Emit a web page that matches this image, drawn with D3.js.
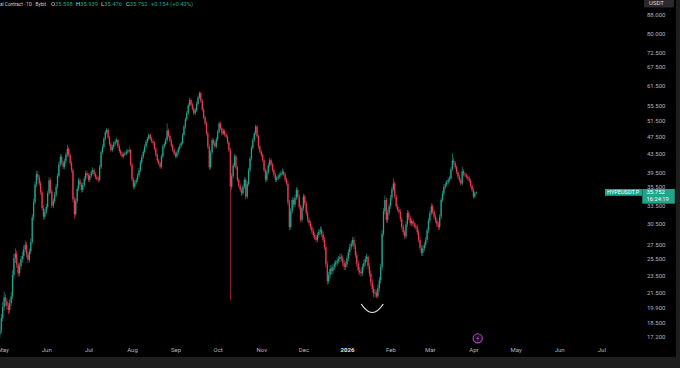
<!DOCTYPE html>
<html><head><meta charset="utf-8">
<script src="https://cdn.jsdelivr.net/npm/d3@7"></script>
<style>html,body{margin:0;padding:0;background:#000;overflow:hidden}svg{display:block}</style>
</head><body>
<svg id="c" width="680" height="368"></svg>
<script>
// ---------- data ----------
const startDate = "2025-04-29";
const firstOpen = 17.4;
const closes = [
17.8,18.9,20.0,21.0,20.6,20.1,19.7,20.4,21.1,23.5,
25.6,26.2,24.8,23.7,24.6,25.5,25.9,26.8,27.4,26.1,
25.4,26.5,27.8,31.5,34.0,37.2,39.2,38.6,37.4,35.8,
33.0,31.6,32.4,33.2,35.6,38.0,35.9,33.4,34.2,35.3,
36.8,38.9,41.2,42.8,41.6,40.7,41.9,43.3,44.6,43.2,
41.5,40.0,34.5,32.0,34.2,36.4,38.0,37.2,36.2,37.1,
38.3,39.4,39.0,38.1,38.9,39.6,40.0,39.2,38.6,38.3,
38.1,40.6,43.8,45.0,46.9,48.5,49.1,47.2,45.6,44.3,
45.0,45.8,46.2,46.6,45.2,44.1,43.4,42.9,43.3,43.6,
43.9,44.0,44.3,41.2,38.2,36.8,37.6,38.1,39.0,40.0,
41.6,42.8,43.9,45.1,46.2,46.9,47.8,47.0,46.3,45.9,
44.6,43.2,42.0,41.4,40.7,42.9,45.1,45.7,46.6,48.9,
47.6,46.5,45.3,44.3,43.5,42.9,43.8,44.6,45.3,45.9,
47.8,49.9,51.8,53.4,55.6,57.1,55.8,54.6,53.4,54.2,
56.0,57.8,59.1,56.9,54.4,52.3,50.7,48.2,45.1,40.6,
43.8,46.6,45.9,45.1,46.8,48.6,50.7,49.5,48.2,48.8,
47.9,47.4,46.0,44.3,36.8,38.8,41.0,42.9,40.5,38.1,
37.0,36.2,35.6,36.8,38.1,35.0,37.3,40.0,42.4,44.8,
46.6,48.2,49.9,47.5,45.1,44.0,43.2,42.1,40.0,38.1,
39.6,41.0,42.1,41.2,40.0,39.1,38.1,38.4,38.7,39.0,
39.4,39.7,39.2,38.1,37.4,34.0,30.0,32.5,34.4,33.6,
34.8,36.2,35.0,33.2,31.1,33.0,35.0,33.8,32.2,31.1,
30.6,30.0,29.4,28.8,28.5,28.1,28.8,29.3,29.6,28.9,
28.1,27.1,24.8,22.8,23.5,24.3,24.0,24.5,24.8,25.0,
25.3,25.5,25.8,25.6,25.0,24.5,24.8,25.6,26.4,27.1,
27.6,28.1,27.2,26.0,24.9,24.1,23.9,23.7,24.5,25.0,
25.5,25.8,24.6,23.7,22.6,21.9,21.4,21.5,21.1,22.0,
22.9,24.5,29.0,32.5,34.4,31.1,32.2,33.3,34.8,36.3,
37.4,35.0,33.3,32.8,32.4,31.2,30.0,29.2,28.6,30.4,
32.2,31.4,30.6,30.9,30.4,30.2,30.0,29.2,28.1,27.0,
26.3,26.9,27.4,28.1,29.5,31.0,32.2,33.3,32.4,31.6,
31.0,30.4,30.0,31.6,34.4,35.6,36.8,37.2,37.6,38.1,
38.4,40.2,42.0,41.5,40.6,39.6,38.7,38.0,37.4,39.8,
39.2,39.0,38.7,38.4,37.9,37.0,36.2,35.0,35.598,35.752];
const highs = [
18.2,19.3,20.5,21.6,21.3,20.9,20.4,20.8,21.6,24.1,
26.2,26.9,26.6,25.1,25.0,25.9,26.5,27.3,28.0,27.8,
26.5,26.9,28.3,32.0,34.6,37.8,39.8,39.9,39.0,37.9,
36.2,33.5,32.9,33.7,36.0,38.6,38.4,36.3,34.7,35.8,
37.3,39.4,41.8,43.4,43.3,42.0,42.4,43.8,45.5,45.0,
43.6,42.0,40.4,35.0,34.7,36.9,38.5,38.5,37.6,37.6,
38.8,39.9,39.9,39.4,39.3,40.0,40.6,40.4,39.6,39.0,
38.8,41.1,44.3,45.6,47.4,49.0,49.6,49.5,47.6,46.1,
45.5,46.3,46.8,47.2,46.9,45.6,44.5,43.9,43.8,44.1,
44.4,44.5,44.9,44.6,41.6,38.6,38.0,38.5,39.4,40.5,
42.1,43.3,44.4,45.6,46.7,47.4,48.3,48.2,47.4,46.7,
46.3,45.0,43.6,42.4,41.8,43.4,45.6,46.2,47.1,50.7,
49.4,48.0,46.9,45.7,44.7,43.9,44.2,45.0,45.8,46.4,
48.3,50.4,52.3,54.0,56.2,57.7,57.6,56.2,55.0,54.8,
56.6,58.4,59.7,59.5,57.4,54.9,52.8,51.2,48.7,45.6,
44.3,47.2,47.0,46.4,47.3,49.1,51.2,51.1,49.9,49.3,
49.2,48.3,47.8,46.4,44.8,39.4,41.5,43.5,43.3,40.9,
38.5,37.4,36.6,37.2,38.6,38.5,37.8,40.5,42.9,45.3,
47.1,48.7,50.4,50.3,47.9,45.5,44.4,43.6,42.5,40.4,
40.1,41.5,42.6,42.5,41.6,40.4,39.5,38.9,39.2,39.5,
39.9,40.4,40.1,39.6,38.5,37.8,34.4,33.0,34.9,34.8,
35.3,36.7,36.6,35.4,33.6,33.5,35.5,35.4,34.2,32.6,
31.5,31.0,30.4,29.8,29.2,28.9,29.2,29.7,30.1,30.0,
29.3,28.5,27.5,25.2,23.9,24.7,24.7,24.9,25.2,25.4,
25.7,25.9,26.2,26.2,26.0,25.4,25.2,26.0,26.8,27.5,
28.0,28.5,28.5,27.6,26.4,25.3,24.5,24.3,24.9,25.4,
25.9,26.2,26.0,25.0,24.1,23.0,22.3,21.9,21.8,22.4,
23.3,24.9,29.5,33.0,35.2,34.8,32.7,33.8,35.3,36.8,
38.4,37.8,35.4,33.7,33.2,32.8,31.6,30.4,29.6,30.9,
32.7,32.6,31.8,31.3,31.3,30.8,30.6,30.4,29.6,28.5,
27.4,27.3,27.8,28.5,29.9,31.4,32.6,33.8,33.7,32.8,
32.0,31.4,30.8,32.0,34.8,36.0,37.3,37.7,38.1,38.6,
38.9,40.7,43.6,42.6,41.9,41.0,40.0,39.1,38.4,40.7,
40.2,39.6,39.4,39.1,38.8,38.3,37.4,36.6,35.9,35.939];
const lows = [
17.1,17.5,18.6,19.6,20.1,19.7,19.3,19.4,20.1,20.8,
23.1,25.0,24.4,23.3,23.4,24.2,25.0,25.5,26.4,25.7,
25.0,25.1,26.1,27.5,31.0,33.6,36.8,38.0,36.9,35.3,
32.6,31.1,31.2,32.0,32.9,35.2,35.5,33.0,33.0,33.8,
34.9,36.4,38.5,40.8,41.1,40.2,40.2,41.4,42.8,42.7,
41.0,39.5,34.0,31.3,31.6,33.8,36.0,36.8,35.7,35.8,
36.7,37.9,38.6,37.7,37.7,38.5,39.2,38.8,38.2,37.9,
37.6,37.8,40.2,43.4,44.6,46.5,48.0,46.8,45.2,43.8,
43.9,44.6,45.3,45.8,44.8,43.7,43.0,42.5,42.5,42.9,
43.2,43.5,43.6,40.8,37.8,36.3,36.4,37.2,37.7,38.6,
39.6,41.2,42.4,43.5,44.7,45.8,46.5,46.6,45.9,45.4,
44.2,42.8,41.6,41.0,40.3,40.3,42.5,44.7,45.3,46.2,
47.2,46.1,44.9,43.9,43.1,42.5,42.5,43.4,44.2,44.9,
45.5,47.4,49.4,51.3,52.9,55.1,55.3,54.1,52.9,52.9,
53.7,55.5,57.3,56.3,53.9,51.8,50.2,47.7,44.6,40.0,
40.2,43.4,45.4,44.6,44.7,46.4,48.2,49.0,47.7,47.8,
47.4,47.0,45.6,43.8,20.7,36.2,38.4,40.6,40.0,37.7,
36.6,35.8,35.1,35.2,36.4,34.5,34.6,36.9,39.6,42.0,
44.4,46.2,47.8,47.0,44.6,43.6,42.8,41.7,39.6,37.6,
37.7,39.2,40.6,40.8,39.6,38.7,37.7,37.7,38.0,38.3,
38.6,39.0,38.8,37.7,37.0,33.5,29.5,29.6,32.1,33.1,
33.2,34.4,34.6,32.8,30.7,30.7,32.6,33.4,31.8,30.7,
30.2,29.6,29.0,28.4,28.1,27.7,27.8,28.4,28.9,28.5,
27.7,26.7,24.4,22.4,22.5,23.1,23.6,23.6,24.1,24.4,
24.6,24.9,25.1,25.2,24.6,24.1,24.1,24.4,25.2,26.0,
26.7,27.2,26.8,25.6,24.5,23.7,23.5,23.3,23.4,24.1,
24.6,25.1,24.2,23.3,22.2,21.5,21.0,21.0,20.9,20.9,
21.6,22.5,24.1,28.6,32.0,30.7,30.6,31.8,32.9,34.3,
35.9,34.6,32.9,32.4,32.0,30.8,29.6,28.8,28.2,28.2,
30.0,31.0,30.2,30.2,30.0,29.8,29.6,28.8,27.7,26.6,
25.9,25.9,26.5,27.0,27.7,29.1,30.6,31.8,32.0,31.2,
30.6,30.0,29.6,29.6,31.2,34.0,35.2,36.4,36.8,37.2,
37.7,38.0,39.8,41.0,40.2,39.2,38.3,37.6,37.0,37.0,
38.8,38.6,38.3,38.0,37.5,36.6,35.8,34.6,34.7,35.476];

const priceTicks = [88, 80, 72.5, 67.5, 61.5, 55.5, 51.5, 47.5, 43.5, 39.5, 35.5, 33.5, 30.5, 27.5, 25.5, 23.5, 21.5, 19.9, 18.5, 17.2];
const monthTicks = ["2025-05-01","2025-06-01","2025-07-01","2025-08-01","2025-09-01","2025-10-01","2025-11-01","2025-12-01","2026-01-01","2026-02-01","2026-03-01","2026-04-01","2026-05-01","2026-06-01","2026-07-01"];
const monthLabels = ["May","Jun","Jul","Aug","Sep","Oct","Nov","Dec","2026","Feb","Mar","Apr","May","Jun","Jul"];
const headerLabel = "al Contract · 1D · Bybit";
const ohlcKeys = ["O","H","L","C"];
const ohlcValues = ["35.598","35.939","35.476","35.752"];
const changeText = "+0.154 (+0.43%)";
const symbolName = "HYPEUSDT.P";
const lastPriceText = "35.752";
const countdownText = "16:24:19";
const currencyText = "USDT";
const markerLowDate = "2026-01-19";

// ---------- build ----------
const UP = "#1fa58b", DOWN = "#e9394e", AXIS = "#b2b5be", FONT = "Roboto, Inter, sans-serif";
const parse = d3.utcParse("%Y-%m-%d");
const t0 = parse(startDate);
const candles = closes.map((c, i) => {
  const o = i === 0 ? firstOpen : closes[i - 1];
  return { date: d3.utcDay.offset(t0, i), o, c, h: Math.max(highs[i], o, c), l: Math.min(lows[i], o, c) };
});

const svg = d3.select("#c");
svg.append("rect").attr("width", 680).attr("height", 368).attr("fill", "#000");

const x = d3.scaleUtc().domain([parse("2025-05-01"), parse("2026-07-01")]).range([2.7, 601.3]);
const y = d3.scaleLog().domain([17.2, 88]).range([336.7, 14.7]);

// candles
const cg = svg.append("g").selectAll("g.cd").data(candles).join("g").attr("class", "cd");
cg.append("rect")
  .attr("x", d => x(d.date) - 0.3).attr("width", 0.6)
  .attr("y", d => y(d.h)).attr("height", d => Math.max(0.6, y(d.l) - y(d.h)))
  .attr("fill", d => d.c >= d.o ? UP : DOWN);
cg.append("rect")
  .attr("x", d => x(d.date) - 0.65).attr("width", 1.3)
  .attr("y", d => y(Math.max(d.o, d.c)))
  .attr("height", d => Math.max(0.8, Math.abs(y(d.o) - y(d.c))))
  .attr("fill", d => d.c >= d.o ? UP : DOWN);

// annotation arc under the January low
const lowX = x(parse(markerLowDate));
svg.append("path")
  .attr("d", `M${lowX - 11},${y(20.3)} Q${lowX},${y(20.3) + 17} ${lowX + 11},${y(20.3)}`)
  .attr("fill", "none").attr("stroke", "#e8e8e8").attr("stroke-width", 1.2);

// x axis
const xAxis = d3.axisBottom(x).tickValues(monthTicks.map(parse))
  .tickFormat((d, i) => monthLabels[i]).tickSize(0).tickPadding(0);
const xg = svg.append("g").attr("transform", "translate(0,348)").call(xAxis);
xg.select(".domain").remove();
xg.selectAll("text").attr("font-size", 6).attr("font-family", FONT)
  .attr("font-weight", (d, i) => monthLabels[i] === "2026" ? 700 : 400)
  .attr("fill", (d, i) => monthLabels[i] === "2026" ? "#e0e3eb" : AXIS);

// y axis
const yAxis = d3.axisRight(y).tickValues(priceTicks).tickFormat(d3.format(".3f")).tickSize(0).tickPadding(0);
const yg = svg.append("g").attr("transform", "translate(647,0)").call(yAxis);
yg.select(".domain").remove();
yg.selectAll("text").attr("fill", AXIS).attr("font-size", 6).attr("font-family", FONT)
  .attr("y", d => d === 35.5 ? -7 : 0);

// currency box
svg.append("rect").attr("x", 644).attr("y", -2).attr("width", 30).attr("height", 9.5).attr("rx", 2).attr("fill", "#2a2a2e");
svg.append("text").attr("x", 649).attr("y", 5).attr("fill", "#d1d4dc").attr("font-size", 6)
  .attr("font-family", FONT).text(currencyText);

// last price labels
const lastY = y(closes[closes.length - 1]);
svg.append("rect").attr("x", 605).attr("y", lastY - 3.4).attr("width", 37).attr("height", 6.8).attr("fill", UP);
svg.append("text").attr("x", 607).attr("y", lastY + 1.9).attr("fill", "#fff").attr("font-size", 5.6)
  .attr("font-family", FONT).text(symbolName);
svg.append("rect").attr("x", 642.3).attr("y", lastY - 3.4).attr("width", 32.5).attr("height", 14.7).attr("fill", UP);
svg.append("text").attr("x", 646.5).attr("y", lastY + 1.9).attr("fill", "#fff").attr("font-size", 6)
  .attr("font-family", FONT).text(lastPriceText);
svg.append("text").attr("x", 646.5).attr("y", lastY + 8.8).attr("fill", "#e8fff9").attr("font-size", 5.8)
  .attr("font-family", FONT).text(countdownText);

// header
const hdr = svg.append("g").attr("font-family", FONT).attr("font-size", 5.8);
hdr.append("text").attr("x", 0).attr("y", 5.6).attr("fill", "#d1d4dc").attr("font-size", 4.7).text(headerLabel);
const ohlcX = [51, 76, 101, 126];
ohlcKeys.forEach((k, i) => {
  const t = hdr.append("text").attr("x", ohlcX[i]).attr("y", 5.6);
  t.append("tspan").attr("fill", "#d1d4dc").text(k);
  t.append("tspan").attr("fill", UP).text(ohlcValues[i]);
});
hdr.append("text").attr("x", 151).attr("y", 5.6).attr("fill", UP).text(changeText);

// event icon
const ev = svg.append("g").attr("transform", "translate(477.7,338.3)");
ev.append("circle").attr("r", 4.6).attr("fill", "#1c0a24").attr("stroke", "#b23fcf").attr("stroke-width", 1.1);
ev.append("path").attr("d", "M1.2,-2.8 L-1.3,0.4 L0.3,0.4 L-0.9,3 L1.6,-0.4 L0,-0.4 Z").attr("fill", "#c655e6");

// bottom and right bands
svg.append("rect").attr("x", 0).attr("y", 357).attr("width", 680).attr("height", 11).attr("fill", "#1e1e1e");
svg.append("rect").attr("x", 676).attr("y", 0).attr("width", 4).attr("height", 368).attr("fill", "#1e1e1e");
</script>
</body></html>
